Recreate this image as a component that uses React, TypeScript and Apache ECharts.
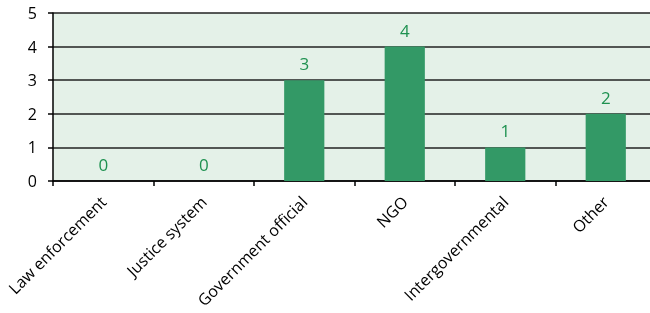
import React, { useEffect, useRef } from "react";
import * as echarts from "echarts";

const categories = ["Law enforcement", "Justice system", "Government official", "NGO", "Intergovernmental", "Other"];
const values = [0, 0, 3, 4, 1, 2];
const yTicks = [0, 1, 2, 3, 4, 5];

export default function App() {
  const ref = useRef<HTMLDivElement>(null);
  useEffect(() => {
    if (!ref.current) return;
    const chart = echarts.init(ref.current, null, { renderer: "svg" });
    const font = "'Open Sans', 'Noto Sans', sans-serif";
    chart.setOption({
      animation: false,
      grid: { left: 53, right: 0, top: 13, bottom: 132, show: true, backgroundColor: "#E4F1E8", borderWidth: 0 },
      xAxis: {
        type: "category",
        data: categories,
        axisLine: { lineStyle: { color: "#000", width: 1.5 } },
        axisTick: { show: true, length: 5, lineStyle: { color: "#000", width: 1.5 } },
        axisLabel: { rotate: 45, color: "#000", fontSize: 16, fontFamily: font, margin: 18, interval: 0 },
      },
      yAxis: {
        type: "value",
        min: yTicks[0],
        max: yTicks[yTicks.length - 1],
        interval: 1,
        axisLine: { show: true, lineStyle: { color: "#000", width: 1.5 } },
        axisTick: { show: true, length: 5, lineStyle: { color: "#000", width: 1.5 } },
        axisLabel: { color: "#000", fontSize: 16, fontFamily: font, margin: 16 },
        splitLine: { show: true, lineStyle: { color: "#222", width: 1.5 } },
      },
      series: [
        {
          type: "bar",
          data: values,
          barWidth: "40%",
          itemStyle: { color: "#339966" },
          label: { show: true, position: "top", distance: 8, color: "#1E9150", fontSize: 17, fontFamily: font },
        },
      ],
    });
    return () => chart.dispose();
  }, []);
  return (
    <div style={{ position: "fixed", left: 0, top: 0, width: 650, height: 313, overflow: "hidden" }}>
      <div ref={ref} style={{ width: 656, height: 313 }} />
    </div>
  );
}
